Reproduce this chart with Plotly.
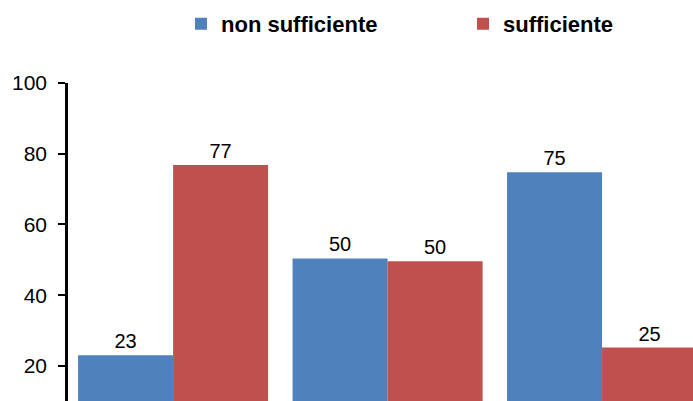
import plotly.graph_objects as go

categories = ["A", "B", "C"]
non_sufficiente = [23, 50.4, 74.8]
sufficiente = [76.8, 49.6, 25.2]
series_names = ["non sufficiente", "sufficiente"]
y_ticks = [20, 40, 60, 80, 100]

fig = go.Figure()
fig.add_trace(go.Bar(
    x=categories, y=non_sufficiente, name=series_names[0],
    marker=dict(color="#4F81BD", line=dict(width=0)),
    texttemplate="%{y:.0f}", textposition="outside",
    textfont=dict(family="Liberation Sans, Arial", size=20, color="black"),
    cliponaxis=False,
))
fig.add_trace(go.Bar(
    x=categories, y=sufficiente, name=series_names[1],
    marker=dict(color="#C0504D", line=dict(width=0)),
    texttemplate="%{y:.0f}", textposition="outside",
    textfont=dict(family="Liberation Sans, Arial", size=20, color="black"),
    cliponaxis=False,
))

fig.update_layout(
    width=693, height=401,
    margin=dict(l=68, r=0, t=83, b=0, autoexpand=False),
    plot_bgcolor="white", paper_bgcolor="white",
    barmode="group", bargap=0.114, bargroupgap=0,
    font=dict(family="Liberation Sans, Arial", color="black"),
    showlegend=True,
    legend=dict(
        orientation="h", x=0.632, xanchor="center", y=1.186, yanchor="middle",
        font=dict(family="Liberation Sans, Arial", size=22, color="black", weight="bold"),
        entrywidth=237, entrywidthmode="pixels",
        itemwidth=30,
    ),
)
fig.update_xaxes(
    range=[-0.49, 2.424], showticklabels=False, showline=False,
    showgrid=False, zeroline=False, ticks="",
)
fig.update_yaxes(
    range=[10.1, 100], tickvals=y_ticks, showgrid=False, zeroline=False,
    showline=True, linecolor="black", linewidth=2.5,
    ticks="outside", ticklen=7, tickwidth=1.5, tickcolor="black",
    tickfont=dict(family="Liberation Sans, Arial", size=21, color="black"),
    ticklabelstandoff=7,
)

fig.write_html("out.html")
